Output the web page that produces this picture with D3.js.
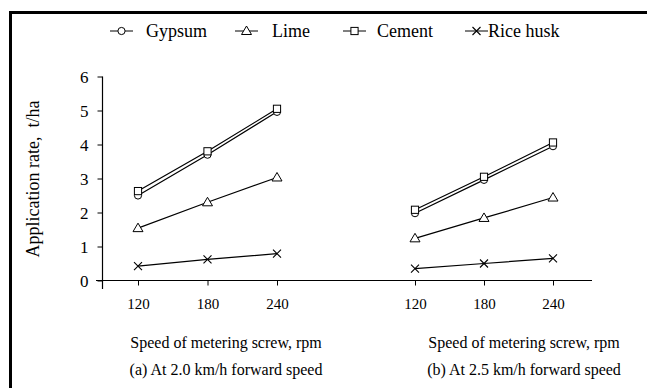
<!DOCTYPE html>
<html>
<head>
<meta charset="utf-8">
<script src="https://cdn.jsdelivr.net/npm/d3@7"></script>
<style>
  body { margin: 0; background: #fff; }
</style>
</head>
<body>
<div id="chart"></div>
<script>
// speeds of the metering screw (rpm)
const speeds = [120, 180, 240];
const yTicks = [0, 1, 2, 3, 4, 5, 6];
const seriesNames = ["Gypsum", "Lime", "Cement", "Rice husk"];
const seriesSymbols = ["circle", "triangle", "square", "cross"];

// (a) 2.0 km/h
const gypsumA = [2.5, 3.7, 4.96];
const limeA = [1.54, 2.3, 3.03];
const cementA = [2.63, 3.8, 5.05];
const huskA = [0.42, 0.62, 0.79];
// (b) 2.5 km/h
const gypsumB = [1.98, 2.96, 3.95];
const limeB = [1.24, 1.84, 2.44];
const cementB = [2.08, 3.05, 4.06];
const huskB = [0.35, 0.5, 0.65];

const panelTitles = ["(a) At 2.0 km/h forward speed", "(b) At 2.5 km/h forward speed"];
const xTitle = "Speed of metering screw, rpm";
const yTitle = "Application rate,  t/ha";

const FONT = "'Liberation Serif', 'Times New Roman', serif";
const width = 647, height = 388;
const svg = d3.select("#chart").append("svg")
  .attr("width", width).attr("height", height)
  .attr("font-family", FONT);

// frame
svg.append("rect")
  .attr("x", 10.5).attr("y", 12.5)
  .attr("width", 660).attr("height", 400)
  .attr("fill", "none").attr("stroke", "#000").attr("stroke-width", 3);

const y = d3.scaleLinear().domain([0, 6]).range([280.5, 76.5]);
const xA = d3.scaleLinear().domain([120, 240]).range([138, 277]);
const xB = d3.scaleLinear().domain([120, 240]).range([415, 553]);

// axes
svg.append("line").attr("x1", 96).attr("x2", 592).attr("y1", y(0)).attr("y2", y(0))
  .attr("stroke", "#000").attr("stroke-width", 1.2);

const yAxis = svg.append("g").attr("transform", "translate(102.5,0)")
  .call(d3.axisLeft(y).tickValues(yTicks).tickSize(5).tickFormat(d3.format("d")))
  .attr("font-family", FONT);
yAxis.select(".domain").remove();
yAxis.append("line").attr("y1", y(6)).attr("y2", 289).attr("stroke", "#000").attr("stroke-width", 1.2);
yAxis.selectAll(".tick line").attr("stroke", "#000");
yAxis.selectAll("text").attr("font-size", 17).attr("x", -14).attr("dy", "0.35em");

[xA, xB].forEach(function (x) {
  const g = svg.append("g").attr("transform", "translate(0," + y(0) + ")")
    .call(d3.axisBottom(x).tickValues(speeds).tickSize(5).tickFormat(d3.format("d")))
    .attr("font-family", FONT);
  g.select(".domain").remove();
  g.selectAll(".tick line").attr("stroke", "#000");
  g.selectAll("text").attr("font-size", 15).attr("y", 18);
});

// y title
svg.append("text")
  .attr("transform", "translate(39,179) rotate(-90)")
  .attr("text-anchor", "middle").attr("font-size", 18)
  .style("white-space", "pre")
  .text(yTitle);

// x titles and captions
[[226, 0], [524, 1]].forEach(function (p) {
  svg.append("text").attr("x", p[0]).attr("y", 348).attr("text-anchor", "middle")
    .attr("font-size", 16).text(xTitle);
  svg.append("text").attr("x", p[0]).attr("y", 375).attr("text-anchor", "middle")
    .attr("font-size", 16).text(panelTitles[p[1]]);
});

function drawMarker(g, type, cx, cy) {
  if (type === "circle") {
    g.append("circle").attr("cx", cx).attr("cy", cy).attr("r", 3.6)
      .attr("fill", "#fff").attr("stroke", "#000").attr("stroke-width", 1);
  } else if (type === "square") {
    g.append("rect").attr("x", cx - 3.6).attr("y", cy - 3.6).attr("width", 7.2).attr("height", 7.2)
      .attr("fill", "#fff").attr("stroke", "#000").attr("stroke-width", 1);
  } else if (type === "triangle") {
    g.append("path")
      .attr("d", `M${cx},${cy - 5}L${cx + 5},${cy + 3.5}L${cx - 5},${cy + 3.5}Z`)
      .attr("fill", "#fff").attr("stroke", "#000").attr("stroke-width", 1);
  } else {
    g.append("path")
      .attr("d", `M${cx - 4},${cy - 4}L${cx + 4},${cy + 4}M${cx - 4},${cy + 4}L${cx + 4},${cy - 4}`)
      .attr("stroke", "#000").attr("stroke-width", 1.1);
  }
}

function drawPanel(x, seriesList) {
  const line = d3.line().x((d, i) => x(speeds[i])).y(d => y(d));
  const g = svg.append("g");
  seriesList.forEach(function (vals) {
    g.append("path").datum(vals).attr("d", line)
      .attr("fill", "none").attr("stroke", "#000").attr("stroke-width", 1.2);
  });
  // markers on top, squares over circles like the original
  [1, 3, 0, 2].forEach(function (k) {
    seriesList[k].forEach(function (v, i) {
      drawMarker(g, seriesSymbols[k], x(speeds[i]), y(v));
    });
  });
}
drawPanel(xA, [gypsumA, limeA, cementA, huskA]);
drawPanel(xB, [gypsumB, limeB, cementB, huskB]);

// legend
const legendX = [110, 235, 343, 465];
const legendTextX = [146, 272, 377, 488];
const legendY = 31;
seriesNames.forEach(function (name, k) {
  const g = svg.append("g");
  g.append("line").attr("x1", legendX[k]).attr("x2", legendX[k] + 23)
    .attr("y1", legendY).attr("y2", legendY).attr("stroke", "#000").attr("stroke-width", 1);
  drawMarker(g, seriesSymbols[k], legendX[k] + 11.5, legendY);
  g.append("text").attr("x", legendTextX[k]).attr("y", legendY + 6)
    .attr("font-size", 18).text(name);
});
</script>
</body>
</html>
